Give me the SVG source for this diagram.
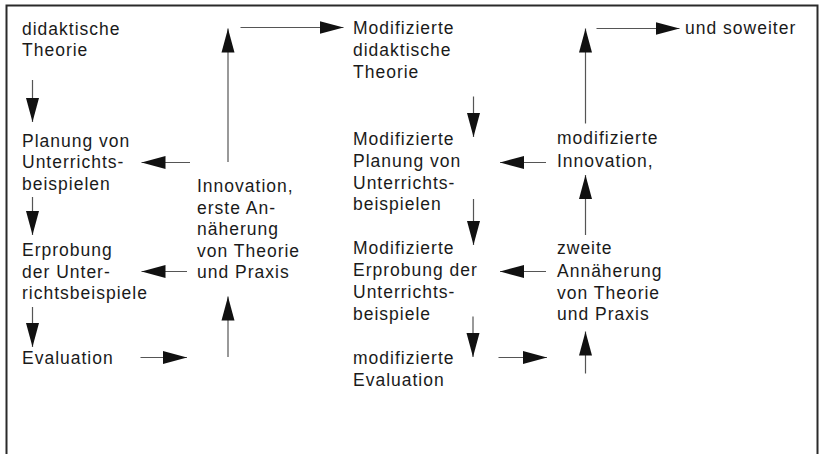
<svg xmlns="http://www.w3.org/2000/svg" width="819" height="454" viewBox="0 0 819 454">
<defs>
<style>
text{font-family:"Liberation Sans",Arial,sans-serif;font-size:17.5px;letter-spacing:1px;fill:#1a1a1a}
.c line{stroke:#555;stroke-width:1.2;fill:none;marker-end:url(#ah)}
.frame{fill:none;stroke:#2a2a2a;stroke-width:2}
</style>
<marker id="ah" markerUnits="userSpaceOnUse" markerWidth="26" markerHeight="14" refX="24" refY="7" orient="auto">
<path d="M0,0.5 L24,7 L0,13.5 Z" fill="#111"/>
</marker>
</defs>
<rect width="819" height="454" fill="#fff"/>
<rect class="frame" x="6.5" y="5.5" width="811" height="470"/>

<g id="n-didaktische-theorie"><text x="22" y="34.5">didaktische</text><text x="22" y="56">Theorie</text></g>
<g id="n-planung"><text x="22" y="146.5">Planung von</text><text x="22" y="168">Unterrichts-</text><text x="22" y="189.5">beispielen</text></g>
<g id="n-erprobung"><text x="22" y="255.5">Erprobung</text><text x="22" y="277.5">der Unter-</text><text x="22" y="299">richtsbeispiele</text></g>
<g id="n-evaluation"><text x="22" y="364">Evaluation</text></g>
<g id="n-innovation"><text x="197" y="192">Innovation,</text><text x="197" y="213.5">erste An-</text><text x="197" y="235">näherung</text><text x="197" y="256.5">von Theorie</text><text x="197" y="278">und Praxis</text></g>
<g id="n-mod-theorie"><text x="353" y="33.5">Modifizierte</text><text x="353" y="56">didaktische</text><text x="353" y="78">Theorie</text></g>
<g id="n-mod-planung"><text x="353" y="145">Modifizierte</text><text x="353" y="167">Planung von</text><text x="353" y="188.5">Unterrichts-</text><text x="353" y="210">beispielen</text></g>
<g id="n-mod-erprobung"><text x="353" y="254">Modifizierte</text><text x="353" y="276">Erprobung der</text><text x="353" y="298">Unterrichts-</text><text x="353" y="320">beispiele</text></g>
<g id="n-mod-evaluation"><text x="353" y="364">modifizierte</text><text x="353" y="386">Evaluation</text></g>
<g id="n-mod-innovation"><text x="557" y="144">modifizierte</text><text x="557" y="166.5">Innovation,</text></g>
<g id="n-zweite"><text x="557" y="254">zweite</text><text x="557" y="276.5">Annäherung</text><text x="557" y="298.5">von Theorie</text><text x="557" y="320">und Praxis</text></g>
<g id="n-soweiter"><text x="685" y="33.5">und soweiter</text></g>

<g id="connectors" class="c">
<line x1="32.5" y1="80" x2="32.5" y2="122"/>
<line x1="32.5" y1="197" x2="32.5" y2="235"/>
<line x1="32.5" y1="307" x2="32.5" y2="347"/>
<line x1="190" y1="162.5" x2="141.5" y2="162.5"/>
<line x1="187" y1="271.5" x2="141.5" y2="271.5"/>
<line x1="140.5" y1="357.5" x2="187" y2="357.5"/>
<line x1="228" y1="357" x2="228" y2="296.5"/>
<line x1="228" y1="162" x2="228" y2="28.5"/>
<line x1="240.5" y1="27.5" x2="343.5" y2="27.5"/>
<line x1="473.5" y1="96.5" x2="473.5" y2="137"/>
<line x1="473.5" y1="199" x2="473.5" y2="245"/>
<line x1="473" y1="316.5" x2="473" y2="357"/>
<line x1="546" y1="162.5" x2="500" y2="162.5"/>
<line x1="546" y1="271.5" x2="500" y2="271.5"/>
<line x1="498.5" y1="357.5" x2="547" y2="357.5"/>
<line x1="585.5" y1="373.5" x2="585.5" y2="331.5"/>
<line x1="585.5" y1="235" x2="585.5" y2="175"/>
<line x1="585.5" y1="123.5" x2="585.5" y2="28.5"/>
<line x1="596.5" y1="28.5" x2="679.5" y2="28.5"/>
</g>
</svg>
